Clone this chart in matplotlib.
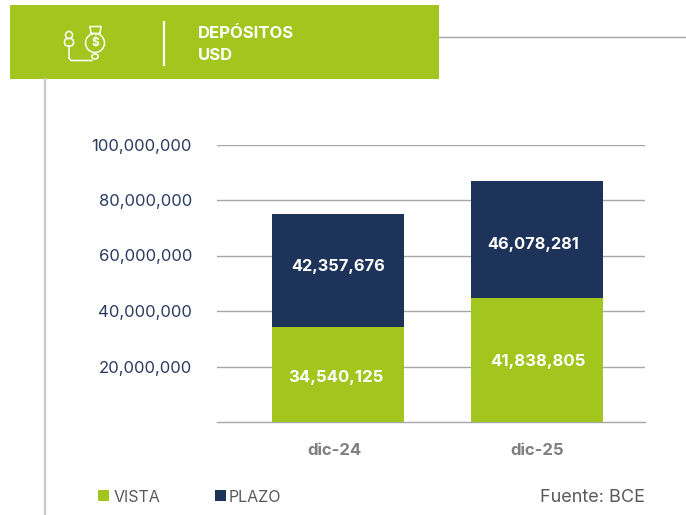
import matplotlib
matplotlib.use("Agg")
import matplotlib.pyplot as plt
from matplotlib.patches import Rectangle, Circle, Ellipse, FancyBboxPatch, Polygon
from matplotlib.transforms import ScaledTranslation

categories = ["dic-24", "dic-25"]
# Printed labels
vista_labels = [34540125, 41838805]
plazo_labels = [42357676, 46078281]
# Segment heights as drawn in the picture (they differ from the printed labels)
vista = [34300000, 44600000]
plazo = [40600000, 42100000]
yticks = [20000000, 40000000, 60000000, 80000000, 100000000]

GREEN = "#A2C61D"
NAVY = "#1D3359"
GRID = "#A6A6A6"
W, H = 686, 515
FONT = "Inter"
plt.rcParams["font.family"] = [FONT, "DejaVu Sans"]

fig = plt.figure(figsize=(W / 100, H / 100), dpi=100, facecolor="white")

# Decorations in pixel coordinates
bg = fig.add_axes([0, 0, 1, 1])
bg.set_xlim(0, W)
bg.set_ylim(H, 0)
bg.axis("off")
bg.add_patch(Rectangle((10, 5), 429, 74, fc=GREEN, ec="none"))
bg.plot([439, 686], [36.5, 36.5], color="#A6A6A6", lw=1)
bg.plot([44.5, 44.5], [79, 515], color="#C8C8C8", lw=1.6)
bg.plot([163.5, 163.5], [22, 65], color="white", lw=1.6)
bg.text(198, 34, "DEPÓSITOS", color="white", fontsize=12, fontweight="bold", va="center", ha="left")
bg.text(198, 55, "USD", color="white", fontsize=12, fontweight="bold", va="center", ha="left")

# Icon: person, connector, money bag
ic = dict(fc="none", ec="white", lw=1.1)
bg.add_patch(Circle((69, 35), 3.5, **ic))
bg.add_patch(FancyBboxPatch((64.5, 38.5), 9, 7.5, boxstyle="round,pad=0,rounding_size=3.5", **ic))
bg.plot([69, 69], [46, 58], color="white", lw=1.1)
bg.plot([69, 71, 92], [58, 60.5, 60.5], color="white", lw=1.1)
bg.add_patch(Ellipse((95, 56.5), 6.5, 5, **ic))
bg.add_patch(Circle((95, 43), 9.5, **ic))
bg.add_patch(Polygon([[90, 26.5], [101, 26.5], [100, 33.5], [91, 33.5]], closed=True, **ic))
bg.text(95, 43, "$", color="white", fontsize=8.5, fontweight="bold", ha="center", va="center")

# Chart axes: x 217-645, y 144.5-422
ax = fig.add_axes([217 / W, 1 - 422 / H, (645 - 217) / W, (422 - 144.5) / H])
ax.set_facecolor("none")
x = list(range(len(categories)))
ax.bar(x, vista, width=0.665, color=GREEN, zorder=3)
ax.bar(x, plazo, width=0.665, bottom=vista, color=NAVY, zorder=3)
ax.set_xlim(-0.6096, 1.5466)
ax.set_ylim(0, 100000000)
ax.set_yticks(yticks)
ax.set_yticklabels([f"{v:,}" for v in yticks], fontsize=12, color="#2A3B5F")
ax.set_xticks(x)
ax.set_xticklabels(categories, fontsize=12, fontweight="bold", color="#7F7F7F")
ax.tick_params(axis="both", length=0)
ax.tick_params(axis="y", pad=18)
ax.tick_params(axis="x", pad=15)
ax.grid(axis="y", color=GRID, lw=1, zorder=0)
for s in ("top", "right", "left"):
    ax.spines[s].set_visible(False)
ax.spines["bottom"].set_color(GRID)
ax.spines["bottom"].set_linewidth(1)

# The reference places its category labels by hand, slightly off the bar centres
for lab, dx in zip(ax.get_xticklabels(), [-4, 1]):
    lab.set_transform(lab.get_transform() + ScaledTranslation(dx / 100, 0, fig.dpi_scale_trans))

# Label nudges in pixels (dx, dy up)
vista_off = [(-2, -3), (1, -1)]
plazo_off = [(0, 4), (-3, -5)]
for i in x:
    ax.annotate(f"{vista_labels[i]:,}", (i, vista[i] / 2), xytext=(vista_off[i][0] * 0.72, vista_off[i][1] * 0.72),
                textcoords="offset points", color="white", fontsize=12, fontweight="bold",
                ha="center", va="center", zorder=4)
    ax.annotate(f"{plazo_labels[i]:,}", (i, vista[i] + plazo[i] / 2), xytext=(plazo_off[i][0] * 0.72, plazo_off[i][1] * 0.72),
                textcoords="offset points", color="white", fontsize=11.8, fontweight="bold",
                ha="center", va="center", zorder=4)

# Legend and source
bg.add_patch(Rectangle((98, 490), 10.5, 11, fc=GREEN, ec="none"))
bg.text(114, 497.5, "VISTA", fontsize=11.5, color="#595959", va="center", ha="left")
bg.add_patch(Rectangle((215, 490), 10.5, 11, fc=NAVY, ec="none"))
bg.text(229, 497.5, "PLAZO", fontsize=11.5, color="#595959", va="center", ha="left")
bg.text(645, 497.5, "Fuente: BCE", fontsize=13, color="#595959", va="center", ha="right")

fig.savefig("out.png", dpi=100)
